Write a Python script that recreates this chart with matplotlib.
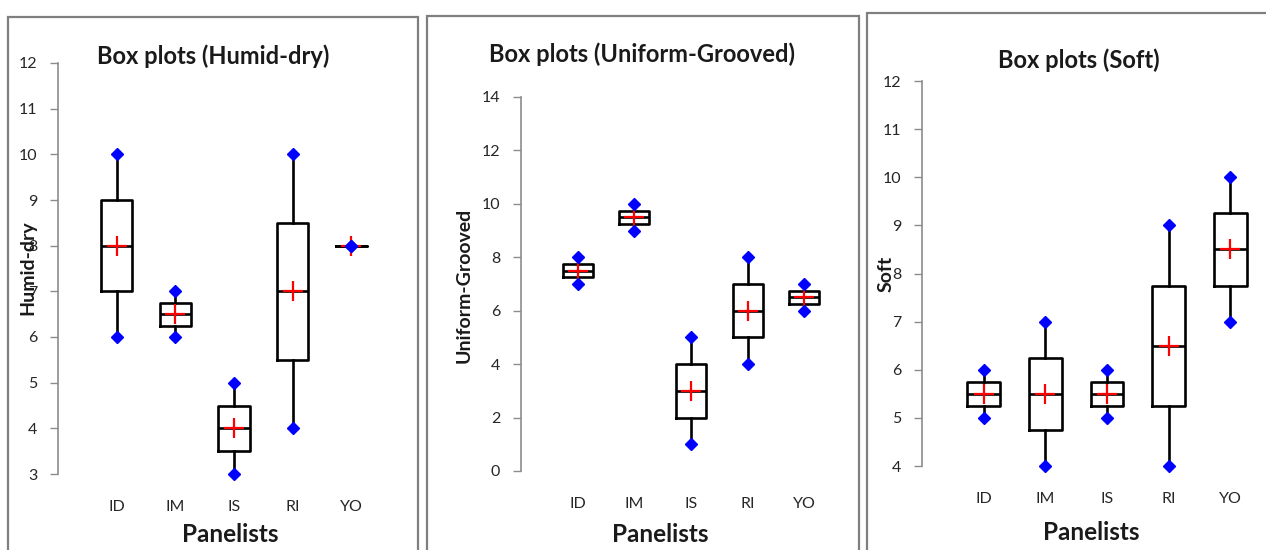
import matplotlib
matplotlib.use("Agg")
import matplotlib.pyplot as plt
from matplotlib.patches import Rectangle

plt.rcParams['font.family'] = ['Lato', 'DejaVu Sans']

panelists = ["ID", "IM", "IS", "RI", "YO"]

# Humid-dry
hd_min = [6, 6, 3, 4, 8]
hd_q1 = [7, 6.25, 3.5, 5.5, 8]
hd_med = [8, 6.5, 4, 7, 8]
hd_q3 = [9, 6.75, 4.5, 8.5, 8]
hd_max = [10, 7, 5, 10, 8]
hd_mean = [8, 6.5, 4, 7, 8]

# Uniform-Grooved
ug_min = [7, 9, 1, 4, 6]
ug_q1 = [7.25, 9.25, 2, 5, 6.25]
ug_med = [7.5, 9.5, 3, 6, 6.5]
ug_q3 = [7.75, 9.75, 4, 7, 6.75]
ug_max = [8, 10, 5, 8, 7]
ug_mean = [7.5, 9.5, 3, 6, 6.5]

# Soft
so_min = [5, 4, 5, 4, 7]
so_q1 = [5.25, 4.75, 5.25, 5.25, 7.75]
so_med = [5.5, 5.5, 5.5, 6.5, 8.5]
so_q3 = [5.75, 6.25, 5.75, 7.75, 9.25]
so_max = [6, 7, 6, 9, 10]
so_mean = [5.5, 5.5, 5.5, 6.5, 8.5]

W, H = 1266, 550
fig = plt.figure(figsize=(W / 100, H / 100), dpi=100)


def px_rect(x0, y0, x1, y1):
    """convert pixel box (top-left origin) to figure fraction [l,b,w,h]"""
    return [x0 / W, (H - y1) / H, (x1 - x0) / W, (y1 - y0) / H]


# panel frames
for (x0, y0, x1, y1) in [(8, 17, 418, 560), (427, 16, 859, 560), (867, 13, 1280, 560)]:
    fig.add_artist(Rectangle((x0 / W, (H - y1) / H), (x1 - x0) / W, (y1 - y0) / H,
                             transform=fig.transFigure, fill=False,
                             edgecolor="#7f7f7f", linewidth=1.6))

panels = [
    dict(title="Box plots (Humid-dry)", ylabel="Humid-dry",
         data=(hd_min, hd_q1, hd_med, hd_q3, hd_max, hd_mean),
         ylim=(3, 12), yticks=range(3, 13, 1), xlim=(0, 6),
         box=(58, 63, 410, 474), title_xy=(213, 56), ylab_xy=(27.5, 268), xlab_xy=(230, 535)),
    dict(title="Box plots (Uniform-Grooved)", ylabel="Uniform-Grooved",
         data=(ug_min, ug_q1, ug_med, ug_q3, ug_max, ug_mean),
         ylim=(0, 14), yticks=range(0, 15, 2), xlim=(0, 6),
         box=(521, 97, 861, 471), title_xy=(642, 54), ylab_xy=(464, 285), xlab_xy=(660, 535)),
    dict(title="Box plots (Soft)", ylabel="Soft",
         data=(so_min, so_q1, so_med, so_q3, so_max, so_mean),
         ylim=(4, 12), yticks=range(4, 13, 1), xlim=(0, 5.5),
         box=(922, 81, 1261, 466), title_xy=(1079, 60), ylab_xy=(886, 274), xlab_xy=(1091, 533)),
]

for p in panels:
    ax = fig.add_axes(px_rect(*p["box"]))
    mn, q1, md, q3, mx, mean = p["data"]
    pos = list(range(1, len(panelists) + 1))
    stats = [dict(whislo=a, q1=b, med=c, q3=d, whishi=e, mean=f, label=l)
             for a, b, c, d, e, f, l in zip(mn, q1, md, q3, mx, mean, panelists)]
    ax.bxp(stats, positions=pos, widths=0.53, showfliers=False, showcaps=False,
           showmeans=True,
           boxprops=dict(color="black", linewidth=1.9),
           whiskerprops=dict(color="black", linewidth=1.9),
           medianprops=dict(color="black", linewidth=1.9),
           meanprops=dict(marker="+", markeredgecolor="red", markersize=14,
                          markeredgewidth=1.6, zorder=5))
    ax.plot(pos, mn, linestyle="none", marker="D", color="#0000ff", markersize=6.5,
            zorder=6, clip_on=False)
    ax.plot(pos, mx, linestyle="none", marker="D", color="#0000ff", markersize=6.5,
            zorder=6, clip_on=False)

    ax.set_xlim(*p["xlim"])
    ax.set_ylim(*p["ylim"])
    ax.set_yticks(list(p["yticks"]))
    ax.set_xticks(pos)
    ax.set_xticklabels(panelists)
    for s in ["top", "right", "bottom"]:
        ax.spines[s].set_visible(False)
    ax.spines["left"].set_color("#8c8c8c")
    ax.spines["left"].set_linewidth(1.2)
    ax.tick_params(axis="y", direction="out", length=6, width=1.0, color="#8c8c8c",
                   labelsize=11.5, pad=9, labelcolor="#262626")
    ax.tick_params(axis="x", length=0, labelsize=11.5, pad=19, labelcolor="#262626")
    ax.patch.set_alpha(0)

    tx, ty = p["title_xy"]
    fig.text(tx / W, (H - ty) / H, p["title"], ha="center", va="center",
             fontsize=17, fontweight="bold", color="#1a1a1a")
    lx, ly = p["ylab_xy"]
    fig.text(lx / W, (H - ly) / H, p["ylabel"], ha="center", va="center", rotation=90,
             fontsize=14, fontweight="bold", color="#1a1a1a")
    xx, xy = p["xlab_xy"]
    fig.text(xx / W, (H - xy) / H, "Panelists", ha="center", va="center",
             fontsize=17.5, fontweight="bold", color="#1a1a1a")

fig.savefig("out.png", dpi=100)
